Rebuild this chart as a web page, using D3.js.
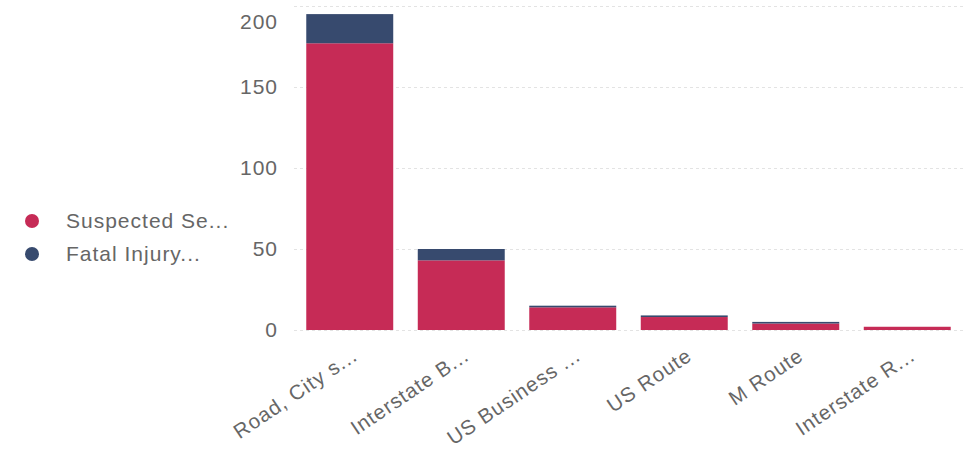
<!DOCTYPE html>
<html><head><meta charset="utf-8">
<script src="https://cdn.jsdelivr.net/npm/d3@7"></script>
<style>body{margin:0;background:#fff;}svg{display:block;font-family:"Liberation Sans",Arial,sans-serif;}</style>
</head><body>
<svg id="c" width="969" height="449"></svg>
<script>
const categories = ["Road, City s...", "Interstate B...", "US Business ...", "US Route", "M Route", "Interstate R..."];
const seriesNames = ["Suspected Se...", "Fatal Injury..."];
const suspectedSerious = [177, 43, 14, 8, 4, 2];
const fatalInjury = [18, 7, 1, 1, 1, 0];
const yTicks = [0, 50, 100, 150, 200];
const colors = ["#C62B56", "#374A6E"];

const svg = d3.select("#c");
const plot = {left: 294, right: 963, top: 6, bottom: 330};

const x = d3.scaleBand().domain(categories).range([plot.left, plot.right]).paddingInner(0.22).paddingOuter(0.11);
const y = d3.scaleLinear().domain([0, 200]).range([plot.bottom, plot.top]);

const data = categories.map((c, i) => ({cat: c, s: suspectedSerious[i], f: fatalInjury[i]}));
const stack = d3.stack().keys(["s", "f"])(data);

// gridlines
svg.append("g").selectAll("line").data(yTicks).join("line")
  .attr("x1", plot.left).attr("x2", plot.right)
  .attr("y1", d => y(d) + 0.5).attr("y2", d => y(d) + 0.5)
  .attr("stroke", "#e3e3e3").attr("stroke-width", 1).attr("stroke-dasharray", "3,3");

// y tick labels
const yAxis = d3.axisLeft(y).tickValues(yTicks).tickSize(0).tickPadding(0);
const gy = svg.append("g").attr("transform", `translate(278,0)`).call(yAxis);
gy.select(".domain").remove();
gy.selectAll("text").attr("fill", "#666").attr("font-size", 21).attr("letter-spacing", 1)
  .attr("y", d => d === 200 ? 16 : 0);

// bars
svg.append("g").selectAll("g").data(stack).join("g")
  .attr("fill", (d, i) => colors[i])
  .selectAll("rect").data(d => d).join("rect")
  .attr("x", d => x(d.data.cat))
  .attr("width", x.bandwidth())
  .attr("y", d => y(d[1]))
  .attr("height", d => Math.max(0, y(d[0]) - y(d[1])));

// x axis labels
const xAxis = d3.axisBottom(x).tickSize(0).tickPadding(0);
const gx = svg.append("g").attr("transform", `translate(0,${plot.bottom})`).call(xAxis);
gx.select(".domain").remove();
gx.selectAll("text").attr("fill", "#666").attr("font-size", 20.5).attr("letter-spacing", 1)
  .attr("text-anchor", "end")
  .attr("y", 0).attr("dy", 0)
  .attr("transform", "translate(9,29) rotate(-34)");

// legend
const lg = svg.append("g").attr("transform", "translate(32,221)");
const items = lg.selectAll("g").data(seriesNames).join("g")
  .attr("transform", (d, i) => `translate(0,${i * 33})`);
items.append("circle").attr("r", 7).attr("fill", (d, i) => colors[i]);
items.append("text").attr("x", 34).attr("dy", "0.35em").attr("fill", "#666").attr("font-size", 21).attr("letter-spacing", 1).text(d => d);
</script>
</body></html>
